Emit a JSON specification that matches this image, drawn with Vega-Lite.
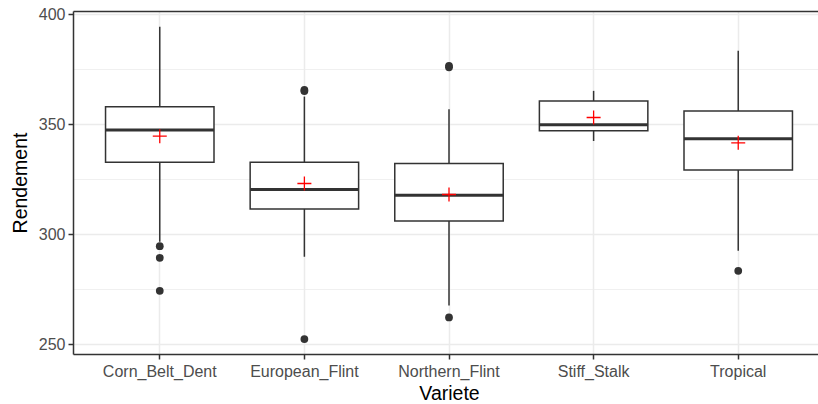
{
  "$schema": "https://vega.github.io/schema/vega-lite/v6.json",
  "autosize": {"type": "none"},
  "padding": {"left": 73, "top": 11, "right": 0, "bottom": 50},
  "width": 752,
  "height": 343,
  "background": "white",
  "config": {
    "view": {"stroke": null},
    "font": "Liberation Sans",
    "axis": {
      "labelColor": "#4D4D4D",
      "labelFontSize": 16,
      "labelFont": "Liberation Sans",
      "titleFont": "Liberation Sans",
      "titleFontSize": 19.5,
      "titleFontWeight": "normal",
      "titleColor": "#000000",
      "tickColor": "#333333",
      "tickSize": 5,
      "tickWidth": 1.5,
      "domainColor": "#333333",
      "domainWidth": 1.5,
      "gridColor": "#EBEBEB"
    }
  },
  "resolve": {"axis": {"x": "independent"}},
  "datasets": {
    "stats": [
      {"Variete": "Corn_Belt_Dent", "lower": 296.5, "q1": 332.6, "median": 347.3, "q3": 357.9, "upper": 394.2, "mean": 344.5},
      {"Variete": "European_Flint", "lower": 289.7, "q1": 311.4, "median": 320.3, "q3": 332.6, "upper": 362.5, "mean": 323.0},
      {"Variete": "Northern_Flint", "lower": 267.6, "q1": 306.0, "median": 317.7, "q3": 332.1, "upper": 356.7, "mean": 318.0},
      {"Variete": "Stiff_Stalk", "lower": 342.3, "q1": 347.0, "median": 349.7, "q3": 360.5, "upper": 365.1, "mean": 353.0},
      {"Variete": "Tropical", "lower": 292.4, "q1": 329.1, "median": 343.3, "q3": 355.9, "upper": 383.3, "mean": 341.5}
    ],
    "outliers": [
      {"Variete": "Corn_Belt_Dent", "Rendement": 294.5},
      {"Variete": "Corn_Belt_Dent", "Rendement": 289.2},
      {"Variete": "Corn_Belt_Dent", "Rendement": 274.2},
      {"Variete": "European_Flint", "Rendement": 365.5},
      {"Variete": "European_Flint", "Rendement": 365.0},
      {"Variete": "European_Flint", "Rendement": 252.3},
      {"Variete": "Northern_Flint", "Rendement": 376.5},
      {"Variete": "Northern_Flint", "Rendement": 375.8},
      {"Variete": "Northern_Flint", "Rendement": 262.1},
      {"Variete": "Tropical", "Rendement": 283.3}
    ]
  },
  "layer": [
    {
      "data": {"name": "stats"},
      "mark": {"type": "rule", "color": "#333333", "strokeWidth": 1.5},
      "encoding": {
        "x": {
          "field": "Variete",
          "type": "nominal",
          "sort": ["Corn_Belt_Dent", "European_Flint", "Northern_Flint", "Stiff_Stalk", "Tropical"],
          "scale": {"paddingInner": 0, "paddingOuter": 0.1},
          "axis": {
            "title": "Variete",
            "orient": "bottom",
            "labelAngle": 0,
            "labelPadding": 4,
            "titlePadding": 5,
            "bandPosition": 0.5,
            "grid": true,
            "gridWidth": 1.5
          }
        },
        "y": {
          "field": "lower",
          "type": "quantitative",
          "scale": {"domain": [245.5, 401.4], "nice": false, "zero": false},
          "axis": {
            "title": "Rendement",
            "values": [250, 275, 300, 325, 350, 375, 400],
            "labelExpr": "datum.value % 50 === 0 ? datum.label : ''",
            "tickOpacity": {"condition": {"test": "datum.value % 50 === 0", "value": 1}, "value": 0},
            "gridWidth": {"condition": {"test": "datum.value % 50 === 0", "value": 1.5}, "value": 0.75},
            "labelPadding": 3,
            "titlePadding": 8,
            "grid": true
          }
        },
        "y2": {"field": "upper"}
      }
    },
    {
      "data": {"name": "stats"},
      "mark": {"type": "bar", "fill": "white", "stroke": "#333333", "strokeWidth": 1.5, "width": {"band": 0.75}},
      "encoding": {
        "x": {"field": "Variete", "type": "nominal", "sort": ["Corn_Belt_Dent", "European_Flint", "Northern_Flint", "Stiff_Stalk", "Tropical"], "axis": null},
        "y": {"field": "q1", "type": "quantitative"},
        "y2": {"field": "q3"}
      }
    },
    {
      "data": {"name": "stats"},
      "mark": {"type": "tick", "color": "#333333", "thickness": 3, "size": 108.5, "opacity": 1},
      "encoding": {
        "x": {"field": "Variete", "type": "nominal", "sort": ["Corn_Belt_Dent", "European_Flint", "Northern_Flint", "Stiff_Stalk", "Tropical"], "axis": null},
        "y": {"field": "median", "type": "quantitative"}
      }
    },
    {
      "data": {"name": "outliers"},
      "mark": {"type": "point", "filled": true, "color": "#333333", "size": 60, "opacity": 1},
      "encoding": {
        "x": {"field": "Variete", "type": "nominal", "sort": ["Corn_Belt_Dent", "European_Flint", "Northern_Flint", "Stiff_Stalk", "Tropical"], "axis": null},
        "y": {"field": "Rendement", "type": "quantitative"}
      }
    },
    {
      "data": {"name": "stats"},
      "mark": {"type": "point", "shape": "M-1,0L1,0M0,-1L0,1", "filled": false, "stroke": "#FF0000", "strokeWidth": 1.3, "size": 196, "opacity": 1},
      "encoding": {
        "x": {
          "field": "Variete",
          "type": "nominal",
          "sort": ["Corn_Belt_Dent", "European_Flint", "Northern_Flint", "Stiff_Stalk", "Tropical"],
          "axis": {"orient": "top", "title": null, "labels": false, "ticks": false, "grid": false, "domain": true}
        },
        "y": {"field": "mean", "type": "quantitative"}
      }
    }
  ]
}
